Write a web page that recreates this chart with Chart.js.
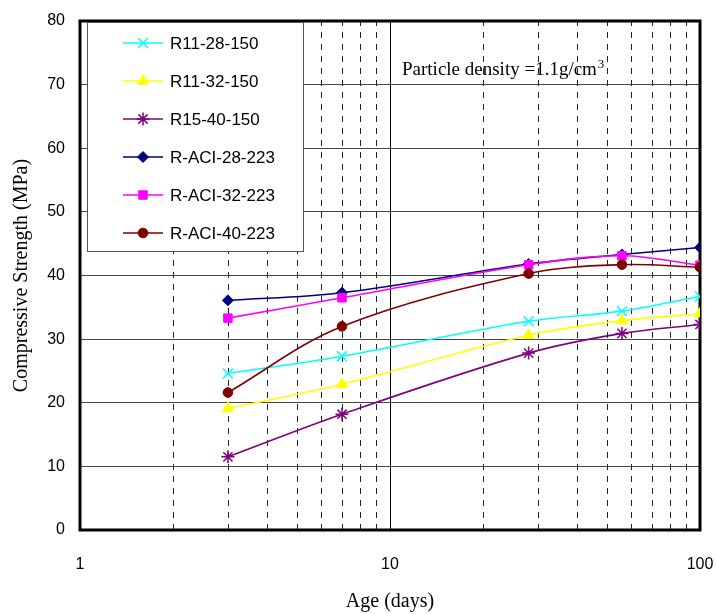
<!DOCTYPE html>
<html>
<head>
<meta charset="utf-8">
<script src="https://cdn.jsdelivr.net/npm/chart.js@4/dist/chart.umd.min.js"></script>
<style>
    html, body { margin: 0; padding: 0; background: #fff; }
    #wrap { width: 716px; height: 614px; }
</style>
</head>
<body>
<div id="wrap"><canvas id="chart"></canvas></div>
<script>
// ages in days (log axis)
const ages = [3, 7, 28, 56, 100];

const seriesNames = ["R11-28-150", "R11-32-150", "R15-40-150", "R-ACI-28-223", "R-ACI-32-223", "R-ACI-40-223"];
const r11_28_150 = [24.6, 27.3, 32.8, 34.4, 36.7];
const r11_32_150 = [19.1, 22.9, 30.6, 32.9, 34.0];
const r15_40_150 = [11.5, 18.2, 27.8, 30.9, 32.3];
const rAci_28_223 = [36.1, 37.3, 41.8, 43.3, 44.4];
const rAci_32_223 = [33.3, 36.5, 41.7, 43.1, 41.6];
const rAci_40_223 = [21.6, 32.0, 40.3, 41.7, 41.3];

const xLabels = [1, 10, 100];
const yTicks = [0, 10, 20, 30, 40, 50, 60, 70, 80];
const minorX = [2, 3, 4, 5, 6, 7, 8, 9, 20, 30, 40, 50, 60, 70, 80, 90];
const noteText = "Particle density =1.1g/cm";
const noteSup = "3";

const allValues = [r11_28_150, r11_32_150, r15_40_150, rAci_28_223, rAci_32_223, rAci_40_223];
const colors = ["#00FFFF", "#FFFF00", "#800080", "#000080", "#FF00FF", "#800000"];
const markers = ["crossRot", "triangle", "star", "rectRot", "rect", "circle"];
const markerSizes = [7, 6.5, 6.5, 5.5, 6, 4.8];

const datasets = seriesNames.map((name, i) => ({
    label: name,
    data: ages.map((a, j) => ({ x: a, y: allValues[i][j] })),
    borderColor: colors[i],
    backgroundColor: colors[i],
    pointBorderColor: colors[i],
    pointBackgroundColor: colors[i],
    pointStyle: markers[i],
    pointRadius: markerSizes[i],
    pointBorderWidth: (markers[i] === "crossRot" || markers[i] === "star") ? 1.5 : 1,
    borderWidth: 1.6,
    tension: 0.35,
    order: seriesNames.length - i
}));

// minor log gridlines (dashed) plus frame, under the data
const gridFrame = {
    id: 'gridFrame',
    beforeDatasetsDraw(chart) {
        const ctx = chart.ctx;
        const area = chart.chartArea;
        const xs = chart.scales.x;
        ctx.save();
        ctx.strokeStyle = '#222';
        ctx.lineWidth = 1;
        ctx.setLineDash([6, 6]);
        minorX.forEach(v => {
            const px = Math.round(xs.getPixelForValue(v)) + 0.5;
            ctx.beginPath();
            ctx.moveTo(px, area.bottom);
            ctx.lineTo(px, area.top);
            ctx.stroke();
        });
        ctx.setLineDash([]);
        const p10 = Math.round(xs.getPixelForValue(10)) + 0.5;
        ctx.strokeStyle = '#000';
        ctx.beginPath();
        ctx.moveTo(p10, area.bottom);
        ctx.lineTo(p10, area.top);
        ctx.stroke();

        ctx.lineWidth = 3;
        ctx.strokeStyle = '#000';
        ctx.strokeRect(area.left, area.top, area.right - area.left, area.bottom - area.top);

        // note text with superscript
        ctx.fillStyle = '#000';
        ctx.font = '19px "Liberation Serif", "Times New Roman", serif';
        ctx.textBaseline = 'alphabetic';
        ctx.textAlign = 'left';
        ctx.fillText(noteText, 402, 75);
        const w = ctx.measureText(noteText).width;
        ctx.font = '13px "Liberation Serif", "Times New Roman", serif';
        ctx.fillText(noteSup, 402 + w + 1, 68);
        ctx.restore();
    }
};

// boxed legend inside the plot
const boxLegend = {
    id: 'boxLegend',
    afterDraw(chart) {
        const ctx = chart.ctx;
        const left = 87, top = 22, w = 216, h = 229;
        ctx.save();
        ctx.fillStyle = '#fff';
        ctx.fillRect(left, top, w, h);
        ctx.strokeStyle = '#555';
        ctx.lineWidth = 1;
        ctx.strokeRect(left + 0.5, top + 0.5, w, h);
        ctx.font = '17px "Liberation Sans", Arial, sans-serif';
        ctx.textBaseline = 'middle';
        chart.data.datasets.forEach((ds, i) => {
            const y = 43 + i * 38;
            ctx.strokeStyle = ds.borderColor;
            ctx.lineWidth = 1.6;
            ctx.beginPath();
            ctx.moveTo(123, y);
            ctx.lineTo(163, y);
            ctx.stroke();
            ctx.lineWidth = ds.pointBorderWidth;
            ctx.fillStyle = ds.pointBackgroundColor;
            ctx.strokeStyle = ds.pointBorderColor;
            Chart.helpers.drawPoint(ctx, { pointStyle: ds.pointStyle, radius: ds.pointRadius, rotation: 0, borderWidth: ds.pointBorderWidth }, 143, y);
            ctx.fillStyle = '#000';
            ctx.fillText(ds.label, 170, y + 1);
        });
        ctx.restore();
    }
};

new Chart(document.getElementById('chart'), {
    type: 'line',
    data: { datasets: datasets },
    plugins: [gridFrame, boxLegend],
    options: {
        responsive: true,
        maintainAspectRatio: false,
        animation: false,
        layout: { padding: { top: 21, right: 16, left: 0, bottom: 0 } },
        plugins: {
            legend: { display: false },
            tooltip: { enabled: false }
        },
        scales: {
            x: {
                type: 'logarithmic',
                min: 1,
                max: 100,
                grid: { display: false },
                border: { display: false },
                afterFit: scale => { scale.height = 84; scale.paddingLeft = 0; scale.paddingRight = 0; },
                ticks: {
                    autoSkip: false,
                    maxRotation: 0,
                    padding: 17,
                    color: '#000',
                    font: { family: '"Liberation Sans", Arial, sans-serif', size: 16 },
                    callback: v => xLabels.includes(v) ? String(v) : ''
                },
                title: {
                    display: true,
                    text: 'Age (days)',
                    color: '#000',
                    padding: { top: 0, bottom: 0 },
                    font: { family: '"Liberation Serif", "Times New Roman", serif', size: 20 }
                }
            },
            y: {
                min: 0,
                max: 80,
                afterFit: scale => { scale.width = 80; scale.paddingTop = 0; scale.paddingBottom = 0; },
                afterBuildTicks: scale => { scale.ticks = yTicks.map(v => ({ value: v })); },
                grid: { color: '#444', lineWidth: 1, drawTicks: false },
                border: { display: false },
                ticks: {
                    padding: 15,
                    color: '#000',
                    font: { family: '"Liberation Sans", Arial, sans-serif', size: 16 }
                },
                title: {
                    display: true,
                    text: 'Compressive Strength (MPa)',
                    color: '#000',
                    padding: { top: 10, bottom: 0 },
                    font: { family: '"Liberation Serif", "Times New Roman", serif', size: 20 }
                }
            }
        }
    }
});
</script>
</body>
</html>
